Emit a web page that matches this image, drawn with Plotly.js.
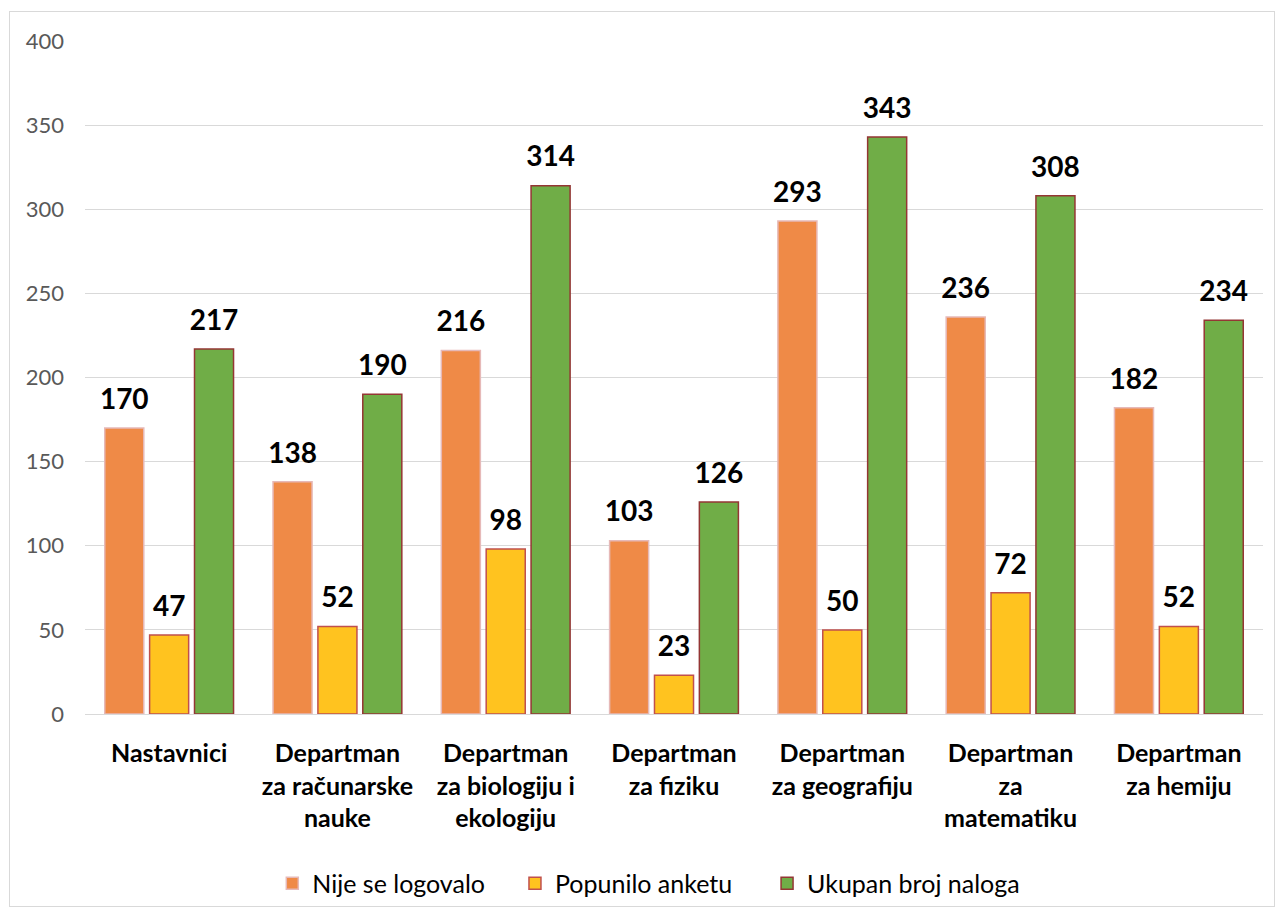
<!DOCTYPE html>
<html><head><meta charset="utf-8">
<script src="https://cdn.plot.ly/plotly-3.0.1.min.js"></script>
<style>
body{margin:0;background:#fff;}
#wrap{position:relative;width:1284px;height:917px;}
#chart{position:absolute;left:0;top:0;width:1284px;height:917px;}
#frame{position:absolute;left:9px;top:11px;width:1264px;height:894px;border:1px solid #D9D9D9;pointer-events:none;}
</style></head>
<body>
<div id="wrap"><div id="chart"></div><div id="frame"></div></div>
<script>
const categories = ["Nastavnici","Departman<br>za računarske<br>nauke","Departman<br>za biologiju i<br>ekologiju","Departman<br>za fiziku","Departman<br>za geografiju","Departman<br>za<br>matematiku","Departman<br>za hemiju"];
const nijeSeLogovalo = [170,138,216,103,293,236,182];
const popuniloAnketu = [47,52,98,23,50,72,52];
const ukupanBrojNaloga = [217,190,314,126,343,308,234];
const seriesNames = ["Nije se logovalo","Popunilo anketu","Ukupan broj naloga"];

const fnt = "Lato, 'Open Sans', sans-serif";
function mk(name, vals, fill, line, g, lg){
  return {type:"bar", name:name, x:categories, y:vals, offsetgroup:g, legend:lg,
    marker:{color:fill, line:{color:line, width:1.5}},
    hoverinfo:"none"};
}
function lab(name, vals, g){
  return {type:"scatter", mode:"markers+text", name:name+" labels", x:categories, y:vals,
    offsetgroup:g, showlegend:false, cliponaxis:false,
    marker:{size:18, color:"rgba(0,0,0,0)"},
    text:vals.map(String), textposition:"top center",
    textfont:{family:fnt, size:28, color:"#000", weight:"bold"}, hoverinfo:"none"};
}
const data = [
  mk(seriesNames[0], nijeSeLogovalo, "#EF8A47", "#E6B9B8", "a", "legend"),
  mk(seriesNames[1], popuniloAnketu, "#FFC31F", "#C0504D", "b", "legend2"),
  mk(seriesNames[2], ukupanBrojNaloga, "#70AD47", "#943634", "c", "legend3"),
  lab(seriesNames[0], nijeSeLogovalo, "a"),
  lab(seriesNames[1], popuniloAnketu, "b"),
  lab(seriesNames[2], ukupanBrojNaloga, "c")
];
function leg(x){
  return {orientation:"h", x:x, xanchor:"left", y:-0.25, yanchor:"middle",
    font:{family:fnt, size:25, color:"#000"}, itemwidth:30, bgcolor:"rgba(0,0,0,0)"};
}
const layout = {
  width:1284, height:917,
  margin:{l:85, r:21, t:41, b:202},
  paper_bgcolor:"#fff", plot_bgcolor:"#fff",
  barmode:"group", bargap:0.2, bargroupgap:0.13,
  scattermode:"group", scattergap:0.2,
  font:{family:fnt},
  yaxis:{range:[0,400], dtick:50, showgrid:true, gridcolor:"#D9D9D9", gridwidth:1,
    zeroline:false, showline:false, ticks:"",
    tickfont:{family:fnt, size:22, color:"#595959"}, ticklabelstandoff:20},
  xaxis:{showline:true, linecolor:"#D9D9D9", linewidth:1, ticks:"",
    tickfont:{family:fnt, size:25, color:"#000", weight:"bold"}, ticklabelstandoff:17, tickangle:0},
  showlegend:true,
  legend:leg(0.159),
  legend2:leg(0.365),
  legend3:leg(0.579)
};
Plotly.newPlot("chart", data, layout, {staticPlot:true});
</script>
</body></html>
